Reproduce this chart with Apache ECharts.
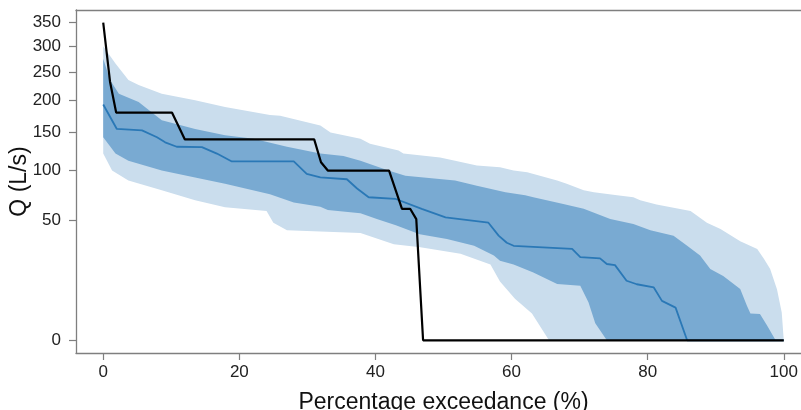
<!DOCTYPE html>
<html>
<head>
<meta charset="utf-8">
<script src="https://cdn.jsdelivr.net/npm/echarts@6/dist/echarts.min.js"></script>
<style>
html,body{margin:0;padding:0;background:#fff;}
#chart{width:801px;height:410px;}
</style>
</head>
<body>
<div id="chart"></div>
<script>
// ---- data (percentage exceedance, Q in L/s) ----
const xTicks = [0, 20, 40, 60, 80, 100];
const yTicks = [0, 50, 100, 150, 200, 250, 300, 350];

const outerUpper = [[0,300],[1.8,266],[3.7,235],[5.2,226],[8.6,211],[13.5,200],[17.9,189],[24.5,176],[26,175],[31.9,160],[33.4,150],[37.8,141],[39.2,134],[43.4,125],[44.1,121],[49.5,116],[51.7,112],[54.9,106],[58.3,104],[60.3,100],[62.3,98],[66.7,88.5],[68.1,85],[70.6,78],[72.1,76],[75.5,73],[77.9,71],[78.9,68],[81.3,64],[83.8,61],[86.3,58],[88.7,48],[90.7,43],[93.6,34],[96.1,29],[97.1,23],[98,17.6],[99,9],[99.7,2.7],[100,0]];
const innerUpper = [[0,275],[1,235],[2.3,211],[5.2,197],[8.6,168],[13.5,155],[17.9,146],[22.1,141],[27,130],[31.9,121],[35.3,118],[37.8,112],[41.9,100],[44.4,94],[51.7,88.5],[54.9,83],[59.1,76],[62,73],[63.2,71],[67.6,64.5],[70.6,60],[74.5,51],[77.9,47],[80.4,42],[83.8,38],[85.8,31],[87.7,25],[89.2,17.6],[91.1,14.4],[93.6,9.1],[94.6,4.1],[95.1,2.5],[96.5,2.4],[97.5,0.8],[98.8,0]];
const median = [[0,193],[2,155],[5.7,153],[7.9,143],[9.1,136],[10.8,130],[14.5,129.5],[16.7,121],[18.9,111],[28,111],[29.9,96],[31.9,92],[35.8,90],[37.3,80],[39,71],[42.9,69.5],[46.8,60],[50.3,52.5],[56.6,48],[58.1,38],[59.3,33],[60.3,31],[68.9,29],[70.1,24],[73,23.3],[74,20.2],[75.2,19.6],[76.9,12.3],[78.4,10.9],[80.9,9.7],[82.1,5.4],[84.1,3.7],[85.8,0],[100,0]];
const innerLower = [[0,143],[1.8,121],[3.7,112],[8.6,100],[13.5,92],[17.9,85],[24.5,74],[28,66],[31.9,62],[33,59],[37.8,56],[40.2,51],[43,46],[46.5,39],[50.5,35.6],[54.5,31],[57.4,25],[58.3,22],[60.3,20],[63.2,16],[66.7,11],[70.1,10.3],[71.3,5],[72.3,1],[74,0]];
const outerLower = [[0,121],[1.3,100],[3.7,88.5],[8.6,78],[13.5,68],[17.9,61.5],[24,58],[25,48],[27,42],[37.8,40],[42.7,32],[46.6,30],[52.5,26],[56.9,20],[58.3,12],[60.5,6],[63,2.5],[65.5,0]];
const obsPct = [0, 1, 1.9, 10.1, 12, 31, 32, 33, 42, 43.9, 45.1, 46, 47, 100];
const obsQ   = [350, 232, 180, 180, 140, 140, 110, 100, 100, 60, 60, 51, 0, 0];

// ---- build ----
const tf = v => Math.sqrt(v);           // square-root y scale
const font = '"Liberation Sans", Arial, Helvetica, sans-serif';
const frame = { color: '#7f7f7f', width: 1.3 };

function band(upper, lower, color) {
  return {
    type: 'custom',
    coordinateSystem: 'cartesian2d',
    silent: true,
    z: 1,
    data: [[0, 0]],
    renderItem: function (params, api) {
      const pts = [];
      upper.forEach(p => pts.push(api.coord([p[0], tf(p[1])])));
      for (let i = lower.length - 1; i >= 0; i--) {
        pts.push(api.coord([lower[i][0], tf(lower[i][1])]));
      }
      return { type: 'polygon', shape: { points: pts }, style: { fill: color } };
    }
  };
}

const chart = echarts.init(document.getElementById('chart'), null, { renderer: 'canvas' });
chart.setOption({
  animation: false,
  backgroundColor: '#fff',
  grid: { left: 76, right: -10, top: 10, bottom: 57, outerBoundsMode: 'none', containLabel: false, show: false },
  xAxis: [{
    type: 'value', min: -4, max: 104,
    name: 'Percentage exceedance (%)', nameLocation: 'middle', nameGap: 38, nameMoveOverlap: false,
    nameTextStyle: { fontSize: 23, color: '#111', fontFamily: font },
    axisLine: { show: true, onZero: false, lineStyle: frame },
    splitLine: { show: false },
    axisTick: { show: true, customValues: xTicks, length: 7, lineStyle: { color: '#7f7f7f', width: 1.2 } },
    axisLabel: { customValues: xTicks, fontSize: 17, color: '#222', margin: 11, fontFamily: font }
  }, {
    type: 'value', min: -4, max: 104, position: 'top',
    axisLine: { show: true, onZero: false, lineStyle: frame },
    axisTick: { show: false }, axisLabel: { show: false }, splitLine: { show: false }
  }],
  yAxis: {
    type: 'value', min: -0.7483, max: 19.457,
    name: 'Q (L/s)', nameLocation: 'middle', nameGap: 45, nameRotate: 90, nameMoveOverlap: false,
    nameTextStyle: { fontSize: 23, color: '#111', fontFamily: font },
    axisLine: { show: true, onZero: false, lineStyle: frame },
    splitLine: { show: false },
    axisTick: { show: true, customValues: yTicks.map(tf), length: 7, lineStyle: { color: '#7f7f7f', width: 1.2 } },
    axisLabel: { customValues: yTicks.map(tf), fontSize: 17, color: '#222', margin: 15, fontFamily: font,
      formatter: v => String(Math.round(v * v)) }
  },
  series: [
    band(outerUpper, outerLower, '#cadded'),
    band(innerUpper, innerLower, '#79aad2'),
    {
      type: 'line', data: median.map(p => [p[0], tf(p[1])]), showSymbol: false, silent: true, z: 3,
      lineStyle: { color: '#2a78b6', width: 1.8 }
    },
    {
      type: 'line', data: obsPct.map((x, i) => [x, tf(obsQ[i])]), showSymbol: false, silent: true, z: 4,
      lineStyle: { color: '#000', width: 2.2 }
    }
  ]
});
</script>
</body>
</html>
